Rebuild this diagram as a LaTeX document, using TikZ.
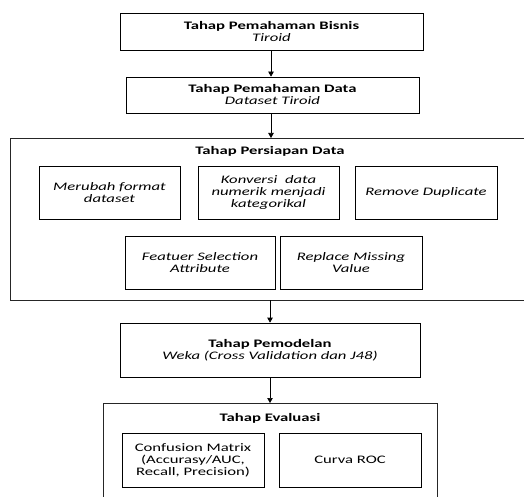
\documentclass[tikz,border=0pt]{standalone}
\usepackage{fontspec}
\setmainfont{Carlito}[FakeStretch=1.45]
\usetikzlibrary{arrows.meta}
\tikzset{
  box/.style={draw=black, line width=0.7pt, rectangle, align=center, inner sep=2pt,
    font=\fontsize{11.5}{12}\selectfont},
  frame/.style={draw=black!85, line width=0.7pt, rectangle},
  ttl/.style={align=center, inner sep=0pt, font=\fontsize{11.5}{12}\selectfont\bfseries},
  arr/.style={draw=black, line width=0.7pt, -{Triangle[length=5pt,width=5.5pt]}}
}
\begin{document}
\begin{tikzpicture}[x=1pt,y=-1pt]
\useasboundingbox (0,0) rectangle (524,497);
\begin{scope}
\clip (0,0) rectangle (524,497);
\node[box, minimum width=303pt, minimum height=37pt] (bis) at (271.5,31.5)
  {\textbf{Tahap Pemahaman Bisnis}\\\textit{Tiroid}};
\node[box, minimum width=293pt, minimum height=36pt] (dat) at (272.5,95)
  {\textbf{Tahap Pemahaman Data}\\\textit{Dataset Tiroid}};
\node[frame, minimum width=529pt, minimum height=162pt] (prep) at (275.3,219) {};
\node[ttl] (prept) at (270,151) {Tahap Persiapan Data};
\node[box, minimum width=141pt, minimum height=53pt] (a) at (109.5,192.5)
  {\textit{Merubah format}\\\textit{dataset}};
\node[box, minimum width=141pt, minimum height=53pt] (b) at (268.5,192.5)
  {\textit{Konversi\ \ data}\\\textit{numerik menjadi}\\\textit{kategorikal}};
\node[box, minimum width=142pt, minimum height=53pt] (c) at (426,192.5)
  {\textit{Remove Duplicate}};
\node[box, minimum width=150pt, minimum height=53pt] (d) at (200,262.5)
  {\textit{Featuer Selection}\\\textit{Attribute}};
\node[box, minimum width=142pt, minimum height=53pt] (e) at (351,262.5)
  {\textit{Replace Missing}\\\textit{Value}};
\node[box, minimum width=300pt, minimum height=54pt] (mod) at (270,350)
  {\textbf{Tahap Pemodelan}\\\textit{Weka (Cross Validation dan J48)}};
\node[frame, minimum width=334pt, minimum height=117pt] (eva) at (270,461.5) {};
\node[ttl] (evat) at (270,418) {Tahap Evaluasi};
\node[box, minimum width=142pt, minimum height=54pt] (cm) at (193,460)
  {Confusion Matrix\\(Accurasy/AUC,\\Recall, Precision)};
\node[box, minimum width=142pt, minimum height=54pt] (roc) at (350,460)
  {Curva ROC};
\coordinate (p1) at (271,138);
\coordinate (p2) at (270,300);
\coordinate (p3) at (270,403);
\draw[arr] (bis.south -| p1) -- (dat.north -| p1);
\draw[arr] (dat.south -| p1) -- (p1);
\draw[arr] (p2) -- (mod.north -| p2);
\draw[arr] (mod.south -| p3) -- (p3);
\end{scope}
\end{tikzpicture}
\end{document}
